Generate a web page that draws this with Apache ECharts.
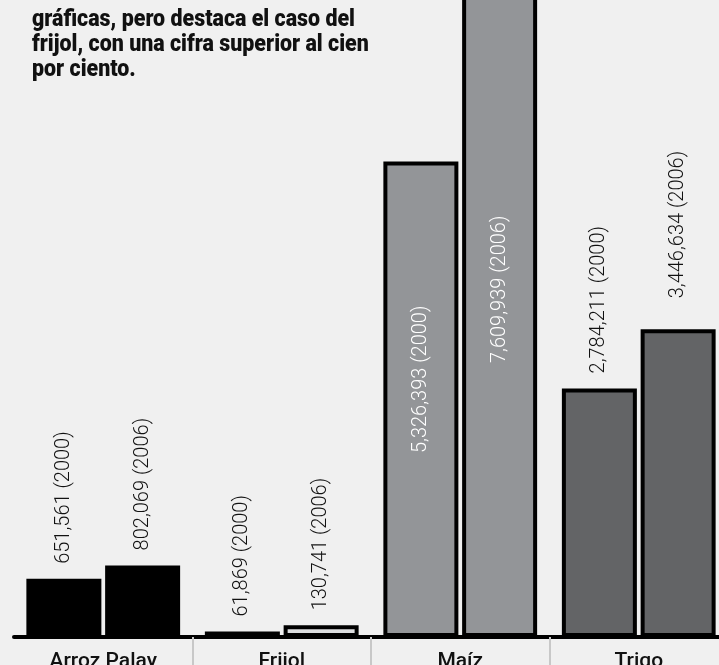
<!DOCTYPE html>
<html>
<head>
<meta charset="utf-8">
<script src="https://cdn.jsdelivr.net/npm/echarts@6/dist/echarts.min.js"></script>
<style>
html,body{margin:0;padding:0;background:#f0f0f0;}
#c{width:719px;height:665px;}
</style>
</head>
<body>
<div id="c"></div>
<script>
const categories = ['Arroz Palay', 'Frijol', 'Maíz', 'Trigo'];
const years = ['2000', '2006'];
const values2000 = [651561, 61869, 5326393, 2784211];
const values2006 = [802069, 130741, 7609939, 3446634];
const titleLines = [
  'gráficas, pero destaca el caso del',
  'frijol, con una cifra superior al cien',
  'por ciento.'
];

const fills = ['#000000', '#dcdddf', '#939598', '#636466'];
const numFont = "Roboto, 'Noto Sans', sans-serif";
const titleFontSize = 23;
const titleFontCss = '900 ' + titleFontSize + 'px Roboto';

function fmt(v) { return v.toLocaleString('en-US'); }

// horizontal condensing factor so the first title line spans ~323px
const mctx = document.createElement('canvas').getContext('2d');
mctx.font = titleFontCss;
const titleScale = 323 / mctx.measureText(titleLines[0]).width;

function buildData(values, yearIdx) {
  return values.map(function (v, i) {
    const item = {
      value: v,
      itemStyle: { color: fills[i], borderColor: '#000', borderWidth: 4 }
    };
    if (i === 2) {
      item.label = {
        position: 'insideBottom',
        distance: yearIdx === 0 ? 184 : 274,
        color: '#ffffff'
      };
    } else if (i === 3 && yearIdx === 1) {
      item.label = { distance: 31 };
    }
    return item;
  });
}

function makeSeries(values, yearIdx) {
  return {
    type: 'bar',
    name: years[yearIdx],
    data: buildData(values, yearIdx),
    barWidth: 75,
    barGap: '5%',
    label: {
      show: true,
      rotate: 90,
      position: 'top',
      align: 'left',
      verticalAlign: 'middle',
      distance: 15,
      color: '#111',
      fontSize: 20,
      fontWeight: 300,
      fontFamily: numFont,
      formatter: function (p) { return fmt(p.value) + ' (' + years[yearIdx] + ')'; }
    }
  };
}

const chart = echarts.init(document.getElementById('c'), null, { renderer: 'canvas' });
chart.setOption({
  backgroundColor: '#f0f0f0',
  animation: false,
  graphic: [{
    type: 'text',
    x: 32,
    y: 8,
    scaleX: titleScale,
    z: 10,
    style: {
      text: titleLines.join('\n'),
      font: titleFontCss,
      lineHeight: 25,
      fill: '#111'
    }
  }],
  grid: { left: 14, right: -9, top: -63, bottom: 28, outerBoundsMode: 'none', containLabel: false },
  xAxis: {
    type: 'category',
    data: categories,
    axisLine: { show: true, lineStyle: { color: '#000', width: 4 } },
    axisTick: {
      show: true,
      interval: function (i) { return i > 0; },
      length: 28,
      lineStyle: { color: '#c8c8c8', width: 2 }
    },
    axisLabel: {
      margin: 14,
      color: '#111',
      fontSize: 21,
      fontWeight: 500,
      fontFamily: numFont,
      interval: 0
    }
  },
  yAxis: { type: 'value', min: 0, max: 7840000, show: false },
  series: [makeSeries(values2000, 0), makeSeries(values2006, 1)]
});
</script>
</body>
</html>
